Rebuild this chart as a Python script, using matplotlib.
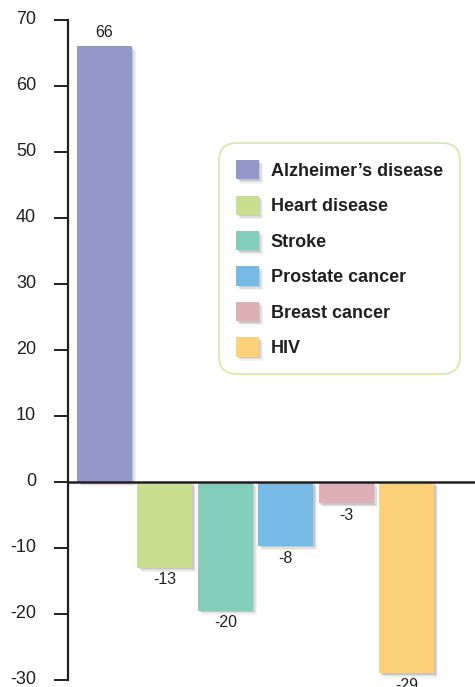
import matplotlib
matplotlib.use('Agg')
import matplotlib.pyplot as plt
import matplotlib.patheffects as pe
import matplotlib.transforms as mtrans
from matplotlib.patches import Patch

# data
categories = ['Alzheimer\u2019s disease', 'Heart disease', 'Stroke',
              'Prostate cancer', 'Breast cancer', 'HIV']
values = [66, -13, -19.5, -9.7, -3.2, -29]
value_labels = ['66', '-13', '-20', '-8', '-3', '-29']
colors = ['#9397C9', '#C9DE8E', '#84CDBB', '#77BAE6', '#E0AEB5', '#FDD07A']
yticks = [-30, -20, -10, 0, 10, 20, 30, 40, 50, 60, 70]

plt.rcParams['font.family'] = ['Liberation Sans', 'DejaVu Sans']
plt.rcParams['axes.unicode_minus'] = False
ink = '#231f20'

fig = plt.figure(figsize=(4.75, 6.87), dpi=100)
ax = fig.add_axes([68/475, 7/687, 1 - 68/475, 660/687])

shadow = [pe.SimplePatchShadow(offset=(1, -1), shadow_rgbFace='#555555', alpha=0.18),
          pe.SimplePatchShadow(offset=(2, -2), shadow_rgbFace='#555555', alpha=0.12),
          pe.SimplePatchShadow(offset=(3, -3), shadow_rgbFace='#555555', alpha=0.07),
          pe.Normal()]

xs = list(range(len(values)))
bars = ax.bar(xs, values, width=0.91, color=colors, zorder=2)
for b in bars:
    b.set_path_effects(shadow)

for x, v, lab in zip(xs, values, value_labels):
    if v >= 0:
        ax.text(x, v + 0.9, lab, ha='center', va='bottom', fontsize=11.5, color=ink)
    else:
        ax.text(x, v - 0.7, lab, ha='center', va='top', fontsize=11.5, color=ink)

ax.axhline(0, color=ink, lw=1.8, zorder=3)

ax.set_xlim(-0.604, 6.13)
ax.set_ylim(-30, 70)
ax.set_yticks(yticks)
ax.set_xticks([])
for s in ['top', 'right', 'bottom']:
    ax.spines[s].set_visible(False)
ax.spines['left'].set_color(ink)
ax.spines['left'].set_linewidth(1.6)
ax.tick_params(axis='y', length=10, width=1.4, color=ink, labelsize=13,
               labelcolor=ink, pad=13)
# nudge tick labels up a touch, as in the original
nudge = mtrans.ScaledTranslation(0, 2/100, fig.dpi_scale_trans)
for lbl in ax.get_yticklabels():
    lbl.set_transform(lbl.get_transform() + nudge)

handles = [Patch(facecolor=c, edgecolor='none', path_effects=shadow) for c in colors]
leg = fig.legend(handles, categories, loc='upper left',
                 bbox_to_anchor=(219/475, 1 - 143/687), borderaxespad=0,
                 prop={'weight': 'bold', 'size': 13},
                 handlelength=1.27, handleheight=1.27, labelspacing=0.87,
                 handletextpad=0.65, borderpad=0.95, fancybox=True,
                 frameon=True, edgecolor='#D5E6A8', facecolor='white',
                 framealpha=1)
leg.get_frame().set_linewidth(1.2)
leg.get_frame().set_boxstyle('round', pad=0, rounding_size=1.0)
for t in leg.get_texts():
    t.set_color(ink)

fig.savefig('out.png', dpi=100)
